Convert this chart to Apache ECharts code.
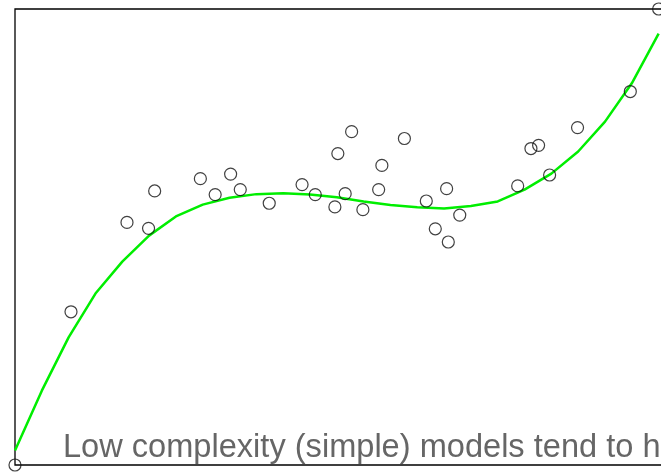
<!DOCTYPE html>
<html>
<head>
<meta charset="utf-8">
<script src="https://cdn.jsdelivr.net/npm/echarts@6/dist/echarts.min.js"></script>
<style>
html,body{margin:0;padding:0;background:#fff;}
#chart{width:661px;height:474px;}
</style>
</head>
<body>
<div id="chart"></div>
<script>
// Observed sample points (x, y)
const pointsX = [0, 0.087, 0.174, 0.2075, 0.217, 0.288, 0.311, 0.335, 0.350, 0.395,
  0.446, 0.4665, 0.497, 0.5016, 0.513, 0.523, 0.5405, 0.565, 0.570, 0.605,
  0.639, 0.653, 0.6706, 0.6732, 0.691, 0.781, 0.8016, 0.8135, 0.8306, 0.874, 0.956, 1];
const pointsY = [0, 0.336, 0.532, 0.519, 0.601, 0.628, 0.593, 0.638, 0.604, 0.574,
  0.615, 0.593, 0.566, 0.683, 0.595, 0.731, 0.560, 0.604, 0.657, 0.716,
  0.579, 0.518, 0.606, 0.489, 0.548, 0.612, 0.694, 0.701, 0.636, 0.740, 0.819, 1];

// Fitted model curve (x, y)
const curveX = [0, 0.0417, 0.0833, 0.125, 0.1667, 0.2083, 0.25, 0.2917, 0.3333, 0.375,
  0.4167, 0.4583, 0.5, 0.5417, 0.5833, 0.625, 0.6667, 0.7083, 0.75, 0.7917,
  0.8333, 0.875, 0.9167, 0.9583, 1];
const curveY = [0.032, 0.163, 0.280, 0.376, 0.446, 0.503, 0.545, 0.571, 0.586, 0.594,
  0.596, 0.593, 0.587, 0.578, 0.570, 0.565, 0.5625, 0.568, 0.578, 0.604,
  0.639, 0.6875, 0.753, 0.837, 0.946];

const caption = 'Low complexity (simple) models tend to have high bias';

const chart = echarts.init(document.getElementById('chart'), null, {renderer: 'canvas'});
chart.setOption({
  animation: false,
  backgroundColor: '#fff',
  grid: {left: 15, top: 9, width: 708, height: 456, show: true, borderColor: '#000', borderWidth: 1.3,
    containLabel: false, outerBoundsMode: 'none'},
  xAxis: {type: 'value', min: 0, max: 1.1, show: false},
  yAxis: {type: 'value', min: 0, max: 1, show: false},
  graphic: [{
    type: 'text', x: 63, y: 448, z: 10,
    style: {text: caption, font: '32.6px "Liberation Sans", Arial, sans-serif', fill: '#666666', verticalAlign: 'middle', align: 'left'}
  }],
  series: [
    {type: 'line', data: curveX.map((x, i) => [x, curveY[i]]), showSymbol: false, symbol: 'none',
      lineStyle: {color: '#00ee00', width: 2.5}, z: 2, clip: false},
    {type: 'scatter', data: pointsX.map((x, i) => [x, pointsY[i]]), symbol: 'circle', symbolSize: 12,
      itemStyle: {color: 'rgba(0,0,0,0)', borderColor: '#111', borderWidth: 1.2}, z: 3, clip: false}
  ]
});
</script>
</body>
</html>
